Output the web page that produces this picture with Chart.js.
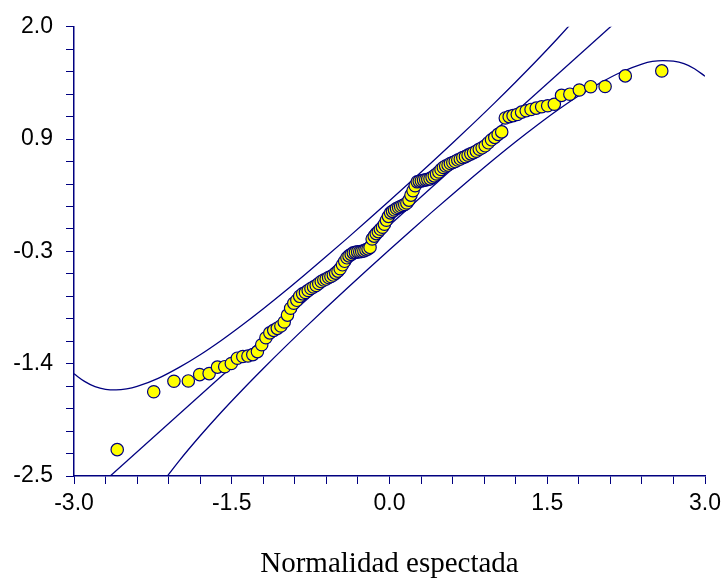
<!DOCTYPE html>
<html>
<head>
<meta charset="utf-8">
<script src="https://cdn.jsdelivr.net/npm/chart.js@4"></script>
<style>
  html, body { margin: 0; padding: 0; background: #fff; overflow: hidden; }
</style>
</head>
<body>
<canvas id="qqChart" width="760" height="582"></canvas>
<script>
// Gráfico Q-Q (normalidad) – puntos amarillos y bandas de confianza
const xTickLabels = ['-3.0', '-1.5', '0.0', '1.5', '3.0'];
const yTickLabels = ['-2.5', '-1.4', '-0.3', '0.9', '2.0'];

// cuantiles esperados (eje x)
const expected = [
  -2.589, -2.242, -2.050, -1.913, -1.805, -1.715, -1.636, -1.567, -1.504, -1.447,
  -1.395, -1.346, -1.300, -1.256, -1.215, -1.175, -1.138, -1.101, -1.067, -1.033,
  -1.001, -0.970, -0.940, -0.910, -0.881, -0.854, -0.826, -0.799, -0.773, -0.747,
  -0.722, -0.697, -0.673, -0.649, -0.625, -0.602, -0.579, -0.557, -0.534, -0.512,
  -0.490, -0.469, -0.447, -0.426, -0.405, -0.385, -0.364, -0.344, -0.324, -0.303,
  -0.283, -0.264, -0.244, -0.224, -0.204, -0.185, -0.165, -0.145, -0.126, -0.106,
  -0.087, -0.067, -0.048, -0.029, -0.010, 0.010, 0.029, 0.048, 0.067, 0.087,
  0.106, 0.126, 0.145, 0.165, 0.185, 0.204, 0.224, 0.244, 0.264, 0.283,
  0.303, 0.324, 0.344, 0.364, 0.385, 0.405, 0.426, 0.447, 0.469, 0.490,
  0.512, 0.534, 0.557, 0.579, 0.602, 0.625, 0.649, 0.673, 0.697, 0.722,
  0.747, 0.773, 0.799, 0.826, 0.854, 0.881, 0.910, 0.940, 0.970, 1.001,
  1.033, 1.067, 1.101, 1.138, 1.175, 1.215, 1.256, 1.300, 1.346, 1.395,
  1.447, 1.504, 1.567, 1.636, 1.715, 1.805, 1.913, 2.050, 2.242, 2.589
];
// valores observados (eje y)
const observed = [
  -2.236, -1.656, -1.551, -1.548, -1.484, -1.474, -1.409, -1.405, -1.373, -1.320,
  -1.303, -1.298, -1.284, -1.254, -1.185, -1.115, -1.066, -1.041, -1.021, -0.997,
  -0.957, -0.888, -0.819, -0.769, -0.740, -0.700, -0.675, -0.661, -0.641, -0.621,
  -0.606, -0.591, -0.571, -0.552, -0.537, -0.527, -0.512, -0.502, -0.487, -0.468,
  -0.448, -0.423, -0.384, -0.349, -0.314, -0.295, -0.280, -0.265, -0.260, -0.255,
  -0.253, -0.250, -0.245, -0.235, -0.225, -0.210, -0.126, -0.097, -0.072, -0.052,
  -0.028, -0.008, 0.022, 0.062, 0.101, 0.136, 0.151, 0.165, 0.180, 0.190,
  0.200, 0.210, 0.220, 0.235, 0.264, 0.314, 0.358, 0.408, 0.447, 0.452,
  0.457, 0.462, 0.467, 0.472, 0.477, 0.492, 0.507, 0.526, 0.546, 0.571,
  0.591, 0.606, 0.615, 0.630, 0.640, 0.650, 0.665, 0.675, 0.690, 0.699,
  0.714, 0.727, 0.739, 0.754, 0.774, 0.788, 0.808, 0.838, 0.868, 0.892,
  0.922, 0.947, 1.087, 1.100, 1.110, 1.122, 1.145, 1.159, 1.172, 1.185,
  1.199, 1.209, 1.224, 1.313, 1.325, 1.367, 1.400, 1.402, 1.508, 1.558
];

// línea de referencia
const refX = [-3.0, 3.0];
const refY = [-2.826, 2.850];

// banda superior
const upperX = [-3.0, -2.9, -2.8, -2.7, -2.6, -2.5, -2.4, -2.2, -2.0, -1.8, -1.6, -1.4, -1.2, -1.0, -0.8,
  -0.6, -0.4, -0.2, 0.0, 0.2, 0.4, 0.6, 0.8, 1.0, 1.2, 1.4, 1.6, 1.8, 2.0];
const upperY = [-1.476, -1.552, -1.605, -1.632, -1.638, -1.628, -1.603, -1.522, -1.412, -1.285, -1.142, -0.987, -0.824, -0.654, -0.478,
  -0.299, -0.117, 0.069, 0.257, 0.447, 0.640, 0.836, 1.035, 1.238, 1.447, 1.662, 1.885, 2.121, 2.372];

// banda inferior
const lowerX = [-2.2, -2.0, -1.8, -1.6, -1.4, -1.2, -1.0, -0.8, -0.6, -0.4, -0.2, 0.0, 0.2, 0.4, 0.6,
  0.8, 1.0, 1.2, 1.4, 1.6, 1.8, 2.0, 2.2, 2.4, 2.5, 2.6, 2.7, 2.8, 2.9, 3.0];
const lowerY = [-2.622, -2.348, -2.097, -1.861, -1.638, -1.423, -1.214, -1.011, -0.812, -0.616, -0.423, -0.233, -0.045, 0.141, 0.323,
  0.502, 0.678, 0.848, 1.011, 1.166, 1.309, 1.436, 1.545, 1.627, 1.653, 1.662, 1.656, 1.630, 1.580, 1.505];

const navy = '#000080';
const toPts = (xs, ys) => xs.map((x, i) => ({ x: x, y: ys[i] }));

function minorTicks(min, step, count) {
  const t = [];
  for (let i = 0; i <= count; i++) t.push({ value: +(min + i * step).toFixed(4) });
  return t;
}

const curve = (xs, ys) => ({
  data: toPts(xs, ys),
  showLine: true,
  pointRadius: 0,
  borderColor: navy,
  borderWidth: 1.3,
  cubicInterpolationMode: 'monotone',
  fill: false
});

new Chart(document.getElementById('qqChart'), {
  type: 'scatter',
  data: {
    datasets: [
      {
        data: toPts(expected, observed),
        backgroundColor: '#ffff00',
        borderColor: navy,
        borderWidth: 1.2,
        pointRadius: 6.2
      },
      curve(upperX, upperY),
      curve(refX, refY),
      curve(lowerX, lowerY)
    ]
  },
  options: {
    responsive: false,
    animation: false,
    layout: { padding: { left: 14, right: 55, top: 21, bottom: 0 } },
    plugins: { legend: { display: false }, tooltip: { enabled: false } },
    scales: {
      x: {
        type: 'linear',
        min: -3, max: 3,
        afterBuildTicks: s => { s.ticks = minorTicks(-3, 0.3, 20); },
        afterFit: s => { s.height = 106; },
        grid: { drawOnChartArea: false, drawTicks: true, tickLength: 8, color: navy, lineWidth: 1 },
        border: { display: true, color: navy, width: 1.5 },
        ticks: {
          autoSkip: false,
          maxRotation: 0,
          padding: 6,
          color: '#000',
          font: { family: 'Liberation Sans, Arial, sans-serif', size: 23 },
          callback: (v, i) => (i % 5 === 0 ? xTickLabels[i / 5] : '')
        },
        title: {
          display: true,
          text: 'Normalidad espectada',
          color: '#000',
          font: { family: 'Liberation Serif, Times New Roman, serif', size: 29 },
          padding: { top: 4, bottom: 0 }
        }
      },
      y: {
        type: 'linear',
        min: -2.5, max: 2.0,
        afterBuildTicks: s => { s.ticks = minorTicks(-2.5, 0.225, 20); },
        afterFit: s => { s.width = 60; },
        grid: { drawOnChartArea: false, drawTicks: true, tickLength: 8, color: navy, lineWidth: 1 },
        border: { display: true, color: navy, width: 1.5 },
        ticks: {
          autoSkip: false,
          padding: 13,
          color: '#000',
          font: { family: 'Liberation Sans, Arial, sans-serif', size: 23 },
          callback: (v, i) => (i % 5 === 0 ? yTickLabels[i / 5] : '')
        }
      }
    }
  }
});
</script>
</body>
</html>
